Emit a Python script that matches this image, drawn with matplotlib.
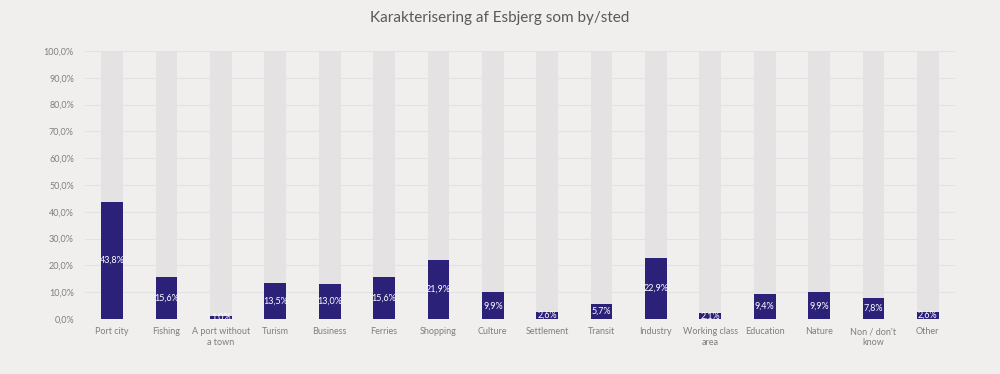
import matplotlib
matplotlib.use("Agg")
import matplotlib.pyplot as plt
from matplotlib.ticker import FuncFormatter
import numpy as np

categories = ["Port city", "Fishing", "A port without\na town", "Turism", "Business",
              "Ferries", "Shopping", "Culture", "Settlement", "Transit", "Industry",
              "Working class\narea", "Education", "Nature", "Non / don't\nknow", "Other"]
values = [43.8, 15.6, 1.0, 13.5, 13.0, 15.6, 21.9, 9.9, 2.6, 5.7, 22.9, 2.1, 9.4, 9.9, 7.8, 2.6]
full = [100.0] * len(values)
title = "Karakterisering af Esbjerg som by/sted"

plt.rcParams["font.family"] = ["Lato", "DejaVu Sans"]
bg = "#f0efee"
navy = "#2b2179"
grey_bar = "#e4e2e2"
text_col = "#7f7f7f"

fig = plt.figure(figsize=(10, 3.74), dpi=100, facecolor=bg)
ax = fig.add_axes([0.085, 0.147, 0.87, 0.7166], facecolor=bg)

x = np.arange(len(categories))
ax.bar(x, full, width=0.4, color=grey_bar, zorder=2)
ax.bar(x, values, width=0.4, color=navy, zorder=3)
for xi, v in zip(x, values):
    ax.text(xi, v / 2, f"{v:.1f}%".replace(".", ","), ha="center", va="center",
            color="white", fontsize=6.5, zorder=4)

ax.set_xlim(-0.5, len(categories) - 0.5)
ax.set_ylim(0, 100)
ax.set_yticks(np.arange(0, 101, 10))
ax.yaxis.set_major_formatter(FuncFormatter(lambda v, p: f"{v:.1f}%".replace(".", ",")))
ax.grid(axis="y", color="#e3e2e2", linewidth=0.8, zorder=0)
ax.set_xticks(x)
ax.set_xticklabels(categories)
ax.tick_params(axis="both", length=0, labelsize=6.5, colors=text_col)
ax.tick_params(axis="x", pad=6)
ax.tick_params(axis="y", pad=8)
for s in ax.spines.values():
    s.set_visible(False)

fig.text(0.5, 0.952, title, ha="center", va="center", fontsize=11, color="#595959")

fig.savefig("out.png", dpi=100, facecolor=bg)
